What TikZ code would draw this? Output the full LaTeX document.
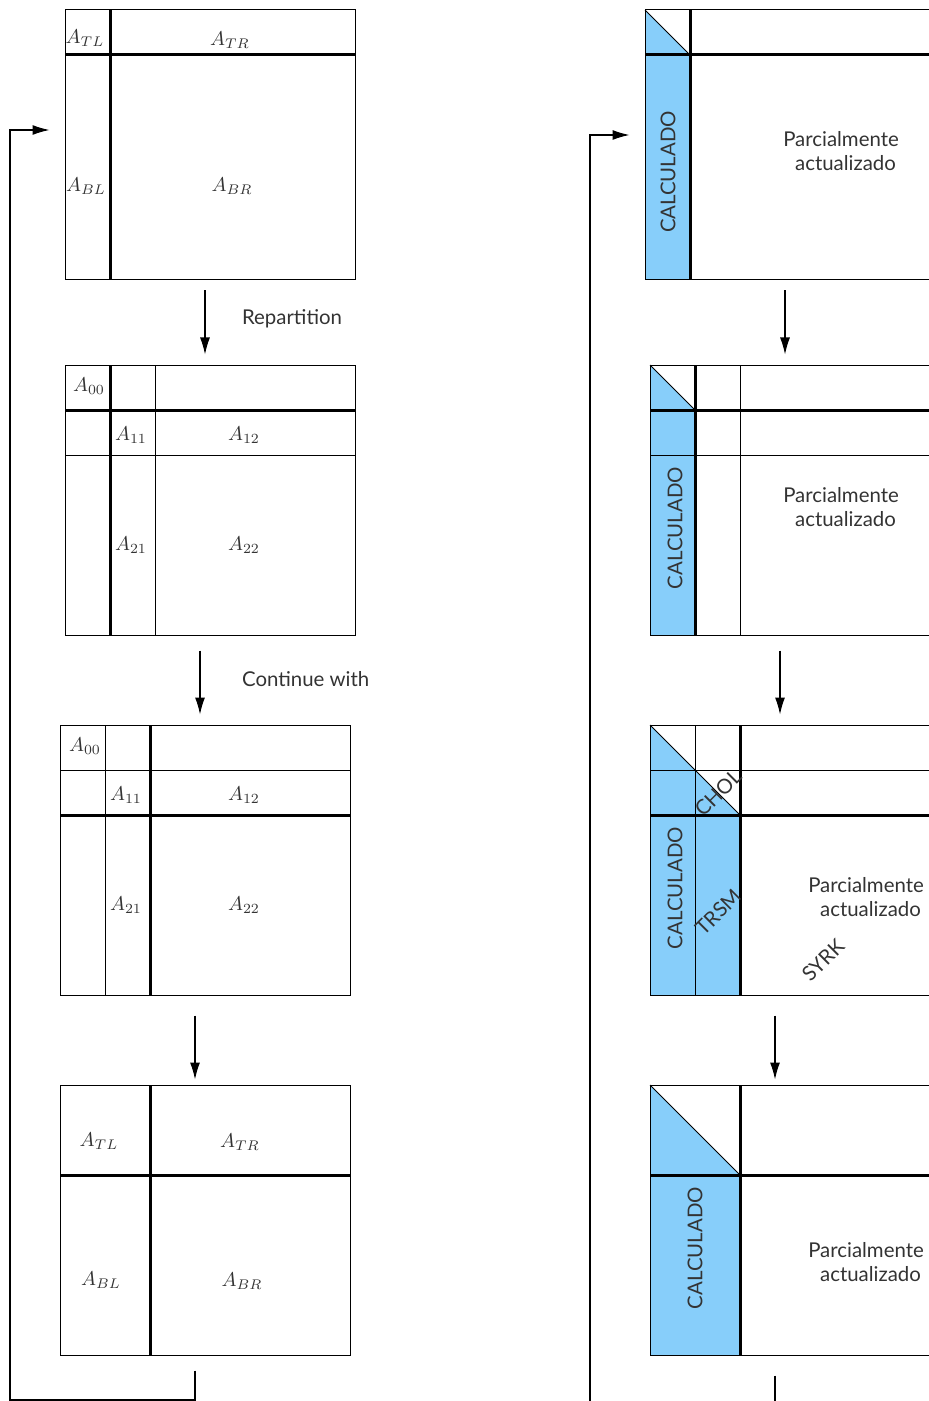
\documentclass[tikz,border=0pt]{standalone}
\usepackage{fontspec}
\setsansfont{Lato}
\usepackage{xcolor}
\usepackage{tikz}
\usetikzlibrary{arrows.meta,positioning,calc}
\definecolor{calcblue}{HTML}{87CEFA}
\definecolor{inkgray}{HTML}{333333}

\begin{document}
\begin{tikzpicture}[x=0.5pt, y=-0.5pt, >={Latex[length=8.5pt,width=5pt]},
  every node/.style={text=inkgray, font=\sffamily\fontsize{10.2}{12.3}\selectfont},
  panel/.style={draw, inner sep=0pt, minimum width=145pt, minimum height=135pt, line width=0.5pt},
  subline/.style={line width=0.5pt},
  cutline/.style={line width=1.5pt},
  flow/.style={->, line width=0.6pt},
  done/.style={fill=calcblue, draw=none},
  twoline/.style={align=center}]
  \useasboundingbox (0,0) rectangle (929,1401);

  % computed parts (right column)
  \path[done] (645,10) -- (690,55) -- (690,280) -- (645,280) -- cycle;
  \path[done] (650,365) -- (695,410) -- (695,635) -- (650,635) -- cycle;
  \path[done] (650,725) -- (740,815) -- (740,995) -- (650,995) -- cycle;
  \path[done] (650,1085) -- (740,1175) -- (740,1355) -- (650,1355) -- cycle;

  % left column
  \node (blk1) [panel] at (210,145) {};
  \node (blk2) [panel] at (210,500) {};
  \node (blk3) [panel] at (205,860) {};
  \node (blk4) [panel] at (205,1220) {};
  % right column
  \node (upd1) [panel] at (790,145) {};
  \node (upd2) [panel] at (795,500) {};
  \node (upd3) [panel] at (795,860) {};
  \node (upd4) [panel] at (795,1220) {};

  \draw[cutline] (110,10) -- (110,280) (65,55) -- (355,55);
  \draw[cutline] (110,365) -- (110,635) (65,410) -- (355,410);
  \draw[subline] (155,365) -- (155,635) (65,455) -- (355,455);
  \draw[subline] (105,725) -- (105,995) (60,770) -- (350,770);
  \draw[cutline] (150,725) -- (150,995) (60,815) -- (350,815);
  \draw[cutline] (150,1085) -- (150,1355) (60,1175) -- (350,1175);

  \draw[subline] (645,10) -- (690,55);
  \draw[cutline] (690,10) -- (690,280) (645,55) -- (935,55);
  \draw[subline] (650,365) -- (695,410);
  \draw[cutline] (695,365) -- (695,635) (650,410) -- (940,410);
  \draw[subline] (740,365) -- (740,635) (650,455) -- (940,455);
  \draw[subline] (650,725) -- (740,815);
  \draw[subline] (695,725) -- (695,995) (650,770) -- (940,770);
  \draw[cutline] (740,725) -- (740,995) (650,815) -- (940,815);
  \draw[subline] (650,1085) -- (740,1175);
  \draw[cutline] (740,1085) -- (740,1355) (650,1175) -- (940,1175);

  \node (atl1) at (85,38) {$A_{TL}$};
  \node (atr1) at (230,40) {$A_{TR}$};
  \node (abl1) at (86,186) {$A_{BL}$};
  \node (abr1) at (232,186) {$A_{BR}$};
  \node (a00a) at (89,386) {$A_{00}$};
  \node (a11a) at (131,435) {$A_{11}$};
  \node (a12a) at (244,435) {$A_{12}$};
  \node (a21a) at (131,545) {$A_{21}$};
  \node (a22a) at (244,545) {$A_{22}$};
  \node (a00b) at (85,746) {$A_{00}$};
  \node (a11b) at (126,795) {$A_{11}$};
  \node (a12b) at (244,795) {$A_{12}$};
  \node (a21b) at (126,905) {$A_{21}$};
  \node (a22b) at (244,905) {$A_{22}$};
  \node (atl4) at (99,1141) {$A_{TL}$};
  \node (atr4) at (240,1142) {$A_{TR}$};
  \node (abl4) at (101,1280) {$A_{BL}$};
  \node (abr4) at (242,1281) {$A_{BR}$};

  \node (calc1) [rotate=90] at (668,172) {CALCULADO};
  \node (calc2) [rotate=90] at (675,528) {CALCULADO};
  \node (calc3) [rotate=90] at (675,888) {CALCULADO};
  \node (calc4) [rotate=90] at (695,1248) {CALCULADO};
  \node (part1) [twoline] at (841,151) {Parcialmente\\ \hspace*{4.5pt}actualizado};
  \node (part2) [twoline] at (841,507) {Parcialmente\\ \hspace*{4.5pt}actualizado};
  \node (part3) [twoline] at (866,897) {Parcialmente\\ \hspace*{4.5pt}actualizado};
  \node (part4) [twoline] at (866,1262) {Parcialmente\\ \hspace*{4.5pt}actualizado};
  \node (chol) [rotate=45] at (718,793) {CHOL};
  \node (trsm) [rotate=45] at (718,912) {TRSM};
  \node (syrk) [rotate=45] at (823,960) {SYRK};

  \node (rep) [anchor=west] at (235,319) {Repartition};
  \node (cont) [anchor=west] at (235,679) {Continue with};

  \draw[flow] ($(blk1.south)+(-5,10)$) -- ($(blk2.north)+(-5,-10)$);
  \draw[flow] ($(blk2.south)+(-10,15)$) -- ($(blk3.north)+(-5,-10)$);
  \draw[flow] ($(blk3.south)+(-10,20)$) -- ($(blk4.north)+(-10,-5)$);
  \draw[flow] ($(blk4.south)+(-10,15)$) |- (10,1400) |- ($(blk1.west)+(-15,-15)$);

  \draw[flow] ($(upd1.south)+(-5,10)$) -- ($(upd2.north)+(-10,-10)$);
  \draw[flow] ($(upd2.south)+(-15,15)$) -- ($(upd3.north)+(-15,-10)$);
  \draw[flow] ($(upd3.south)+(-20,20)$) -- ($(upd4.north)+(-20,-5)$);
  \coordinate (loopin) at (590,1420);
  \draw[flow] (loopin) |- ($(upd1.west)+(-15,-10)$);
  \draw[line width=0.6pt] ($(upd4.south)+(-20,20)$) -- ++(0,50);
\end{tikzpicture}
\end{document}
